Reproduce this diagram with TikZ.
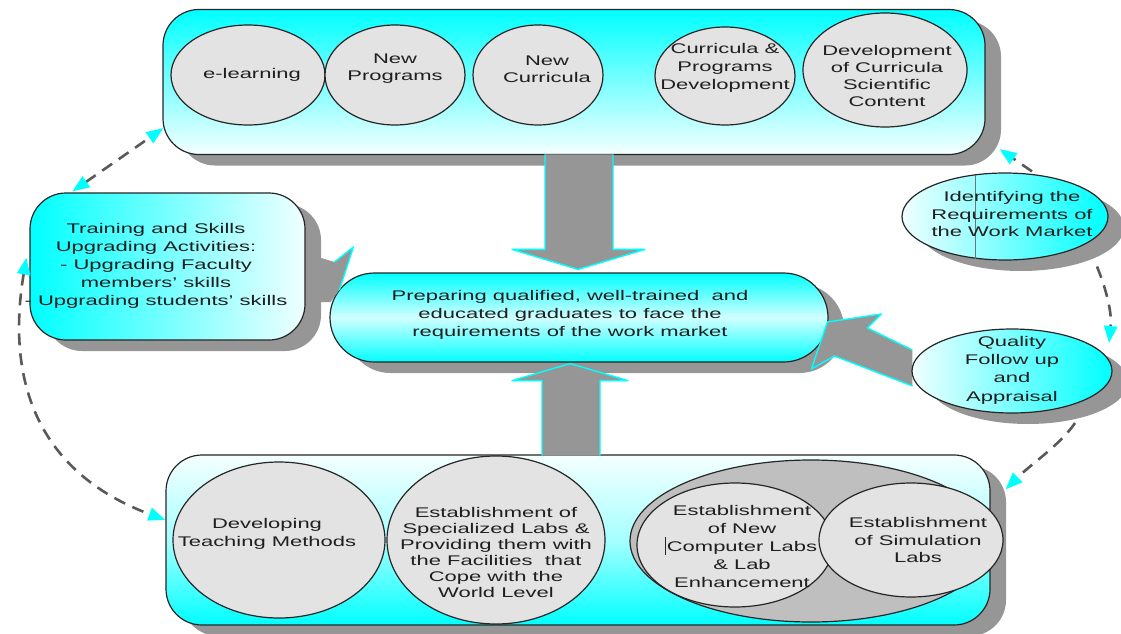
\documentclass[tikz,border=0pt]{standalone}
\usepackage{fontspec}
\setmainfont{Liberation Sans}[FakeStretch=1.57]
\usetikzlibrary{shapes.geometric,shadows,arrows.meta,calc}
\definecolor{cy}{RGB}{0,255,255}
\definecolor{sh}{RGB}{150,150,150}
\pgfdeclarelayer{front}
\pgfsetlayers{main,front}
\begin{document}
\begin{tikzpicture}[x=1pt,y=-1pt,
  >={Triangle[length=17pt,width=13pt,color=cy]},
  outl/.style={draw=black!85, line width=1.2pt},
  shad/.style={drop shadow={shadow xshift=16pt, shadow yshift=-11pt, fill=sh, opacity=1}},
  rbox/.style={rectangle, outl, shad, rounded corners=36pt, inner sep=0pt},
  oval/.style={ellipse, outl, fill=black!11, inner sep=0pt},
  coval/.style={ellipse, outl, shad, left color=cy!6, right color=cy, inner sep=0pt},
  txt/.style={align=center, text=black!88, inner sep=0pt, font=\fontsize{14}{17}\selectfont},
  blockfill/.style={fill=sh},
  blockedge/.style={draw=cy, line width=1.4pt, line join=round},
  dashc/.style={draw=black!65, line width=2.6pt, dash pattern=on 12pt off 8pt},
  artline/.style={draw=black!55, line width=0.6pt}
]
\useasboundingbox (0,0) rectangle (1121,634);

% ---------- Quality node on front layer ----------
\begin{pgfonlayer}{front}
\node[coval, minimum width=200pt, minimum height=84pt] (qual) at (1012,371) {};
\node[txt, font=\fontsize{14}{18.3}\selectfont] (qualt) at (1012,370) {Quality\\Follow up\\and\\Appraisal};
\end{pgfonlayer}

% ---------- top box ----------
\node[rbox, top color=cy, bottom color=cy!4, minimum width=822pt, minimum height=145pt] (topbox) at (574,82) {};
\node[oval, minimum width=154pt, minimum height=100pt] (e1) at (248,75) {};
\node[oval, minimum width=140pt, minimum height=100pt] (e2) at (395,75) {};
\node[oval, minimum width=130pt, minimum height=100pt] (e3) at (538,75) {};
\node[oval, minimum width=140pt, minimum height=98pt] (e4) at (725,76) {};
\node[oval, minimum width=164pt, minimum height=114pt] (e5) at (885,70) {};
\node[txt] (e1t) at (252,75) {e-learning};
\node[txt] (e2t) at (395,69) {New\\Programs};
\node[txt] (e3t) at (547,69) {New\\Curricula};
\node[txt, font=\fontsize{14}{18}\selectfont] (e4t) at (725,68) {Curricula \&\\Programs\\Development};
\node[txt, font=\fontsize{14}{16.7}\selectfont] (e5t) at (887,76) {Development\\of Curricula\\Scientific\\Content};

% ---------- left box ----------
\node[rbox, left color=cy, right color=cy!6, minimum width=275pt, minimum height=147pt] (leftbox) at (167.5,266.5) {};
\node[txt, font=\fontsize{14}{18}\selectfont] (leftt) at (156,266) {Training and Skills\\Upgrading Activities:\\- Upgrading Faculty\\members' skills\\- Upgrading students' skills};

% ---------- identifying ----------
\node[coval, minimum width=206pt, minimum height=87pt] (ident) at (1005,216.5) {};
\draw[artline] ($(ident.center)+(-30,-42)$) -- ($(ident.center)+(-30,42)$);
\node[txt, font=\fontsize{14}{17.5}\selectfont] (identt) at (1012,214) {Identifying the\\Requirements of\\the Work Market};

% ---------- bottom box ----------
\node[rbox, top color=cy!4, bottom color=cy, middle color=cy!35, minimum width=824pt, minimum height=170pt] (botbox) at (578,540) {};
\node[oval, minimum width=212pt, minimum height=156pt] (b1) at (279,540) {};
\node[oval, minimum width=218pt, minimum height=168pt] (b2) at (496,540) {};
\node[ellipse, outl, fill=black!25, inner sep=0pt, minimum width=362pt, minimum height=162pt] (bigell) at (811,541) {};
\node[oval, minimum width=196pt, minimum height=124pt] (b3) at (735,545) {};
\node[oval, minimum width=184pt, minimum height=114pt] (b4) at (911,540) {};
\node[txt, font=\fontsize{14}{18}\selectfont] (b1t) at (267,534) {Developing\\Teaching Methods};
\node[txt, font=\fontsize{14}{16}\selectfont] (b2t) at (496,552) {Establishment of\\Specialized Labs \&\\Providing them with\\the Facilities\ \ that\\Cope with the\\World Level};
\node[txt, font=\fontsize{14}{18}\selectfont] (b3t) at (742,546) {Establishment\\of New\\Computer Labs\\\& Lab\\Enhancement};
\draw[draw=black!85, line width=0.8pt] ($(b3.center)+(-70,-8)$) -- ($(b3.center)+(-70,10)$);
\node[txt, font=\fontsize{14}{17.5}\selectfont] (b4t) at (918,540) {Establishment\\of Simulation\\Labs};

% ---------- centre pill ----------
\node[rectangle, outl, shad, rounded corners=44.5pt, inner sep=0pt, top color=cy, bottom color=cy, middle color=cy!18, minimum width=498pt, minimum height=89pt] (pill) at (579,317.5) {};
\node[txt, font=\fontsize{14}{18}\selectfont] (pillt) at (570,315) {Preparing qualified, well-trained\ \ and\\educated graduates to face the\\requirements of the work market};

% ---------- block arrows ----------
\begin{scope}[shift={(pill.north)}]
\path[blockfill, blockedge] (-34,-118) -- (-34,-23) -- (-67,-23) -- (-1,-3) -- (66,-23) -- (34,-23) -- (34,-118);
\end{scope}
\begin{scope}[shift={(pill.south)}]
\path[blockfill, blockedge] (-37,93) -- (-37,18) -- (-67,18) -- (-9,1) -- (49,18) -- (21,18) -- (21,93);
\end{scope}
\begin{scope}[shift={(pill.west)}]
\fill[blockfill] (-18,-62.5) -- (5,-55.5) -- (24,-70.5) -- (10,-27.5) -- (1,-15.5) -- (-18,-15.5) -- cycle;
\draw[blockedge] (5,-55.5) -- (24,-70.5) -- (10,-27.5);
\end{scope}
\begin{scope}[shift={(qual.west)}]
\path[blockfill, blockedge] (1,-21) -- (-44,-43) -- (-30,-57) -- (-84,-49) -- (-100,-2) -- (-77,-15) -- (1,15);
\end{scope}

% ---------- dashed connectors ----------
\coordinate (c1a) at ($(topbox.south west)+(1,-27)$);
\coordinate (c1b) at ($(leftbox.north west)+(43,-1)$);
\coordinate (c2a) at ($(leftbox.west)+(-3,-9)$);
\coordinate (c2b) at ($(botbox.west)+(0,-20)$);
\coordinate (c3a) at ($(ident.center)+(92,50)$);
\coordinate (c3b) at ($(qual.center)+(97,-28)$);
\coordinate (c4a) at ($(qual.center)+(63,52)$);
\coordinate (c4b) at ($(botbox.north east)+(15,35)$);
\coordinate (c5a) at ($(ident.north)+(27,-1)$);
\coordinate (c5b) at ($(topbox.south east)+(14,-6)$);

\draw[dashc, <->] (c1b) -- (c1a);
\draw[dashc, <->] (c2a) .. controls +(-22,132) and +(-121,-45) .. (c2b);
\draw[dashc, ->] (c3a) .. controls +(10,25) and +(3,-30) .. (c3b);
\draw[dashc, ->] (c4a) .. controls +(-15,22) and +(25,-25) .. (c4b);
\draw[dashc, ->] (c5a) -- (c5b);
\end{tikzpicture}
\end{document}
